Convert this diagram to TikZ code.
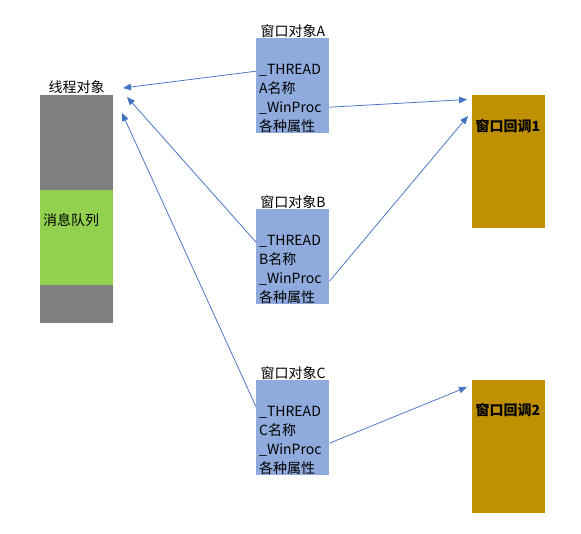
\documentclass[tikz,border=0pt]{standalone}
\usepackage{fontspec}
\setmainfont{Noto Sans CJK SC}
\usetikzlibrary{arrows.meta}
\definecolor{boxblue}{HTML}{8FAADC}
\definecolor{boxgray}{HTML}{7F7F7F}
\definecolor{boxgreen}{HTML}{92D050}
\definecolor{boxgold}{HTML}{BF9000}
\definecolor{lineblue}{HTML}{4472C4}
\tikzset{
  blk/.style={draw=none, inner sep=0pt, anchor=north west, minimum width=73pt},
  winbox/.style={blk, fill=boxblue, minimum height=95pt},
  cbbox/.style={blk, fill=boxgold, minimum height=133pt},
  txt/.style={inner sep=0pt, font=\fontsize{14pt}{17pt}\selectfont, text height=0.88em, text depth=0.12em, yshift=-2pt},
  ltxt/.style={txt, anchor=west},
  conn/.style={draw=lineblue, line width=0.75pt, -{Triangle[length=8pt,width=6.5pt]}}
}
\begin{document}
\begin{tikzpicture}[x=1pt,y=-1pt]
\useasboundingbox (0,0) rectangle (581,533);
\fill[white] (0,0) rectangle (581,533);
% thread object
\node[blk, fill=boxgray, minimum height=228pt] (T) at (40,95) {};
\node[blk, fill=boxgreen, minimum height=95pt] (Q) at (40,190) {};
\node[txt] (Tl) at (76.5,87) {线程对象};
\node[ltxt] (Ql) at (43,219.5) {消息队列};
% window objects
\node[winbox] (A) at (256,38) {};
\node[winbox] (B) at (256,209) {};
\node[winbox] (C) at (256,380) {};
\node[txt] (Al) at (293,30.5) {窗口对象A};
\node[txt] (Bl) at (293,201.5) {窗口对象B};
\node[txt] (Cl) at (293,372.5) {窗口对象C};
\node[ltxt] (a1) at (259,69) {\_THREAD};
\node[ltxt] (a2) at (259,88) {A名称};
\node[ltxt] (a3) at (259,107) {\_WinProc};
\node[ltxt] (a4) at (259,125.5) {各种属性};
\node[ltxt] (b1) at (259,240) {\_THREAD};
\node[ltxt] (b2) at (259,259) {B名称};
\node[ltxt] (b3) at (259,278) {\_WinProc};
\node[ltxt] (b4) at (259,296.5) {各种属性};
\node[ltxt] (c1) at (259,411) {\_THREAD};
\node[ltxt] (c2) at (259,430) {C名称};
\node[ltxt] (c3) at (259,449) {\_WinProc};
\node[ltxt] (c4) at (259,467.5) {各种属性};
% callbacks
\node[cbbox] (K1) at (472,95) {};
\node[cbbox] (K2) at (472,380) {};
\node[ltxt, font=\fontsize{14pt}{17pt}\selectfont\bfseries] (k1) at (475.5,126) {窗口回调1};
\node[ltxt, font=\fontsize{14pt}{17pt}\selectfont\bfseries] (k2) at (475.5,410) {窗口回调2};
% arrow end points
\coordinate (tA) at (123,88);
\coordinate (tB) at (127,97);
\coordinate (tC) at (122,113);
\coordinate (kA) at (467,99.5);
\coordinate (kB) at (468,116);
\coordinate (kC) at (467,387);
% connectors
\draw[conn] ([yshift=14.5pt]A.west) -- (tA);
\draw[conn] ([yshift=14.5pt]B.west) -- (tB);
\draw[conn] ([yshift=21pt]C.west) -- (tC);
\draw[conn] ([yshift=-21.5pt]A.east) -- (kA);
\draw[conn] ([yshift=-24.5pt]B.east) -- (kB);
\draw[conn] ([yshift=-15.5pt]C.east) -- (kC);
\end{tikzpicture}
\end{document}
